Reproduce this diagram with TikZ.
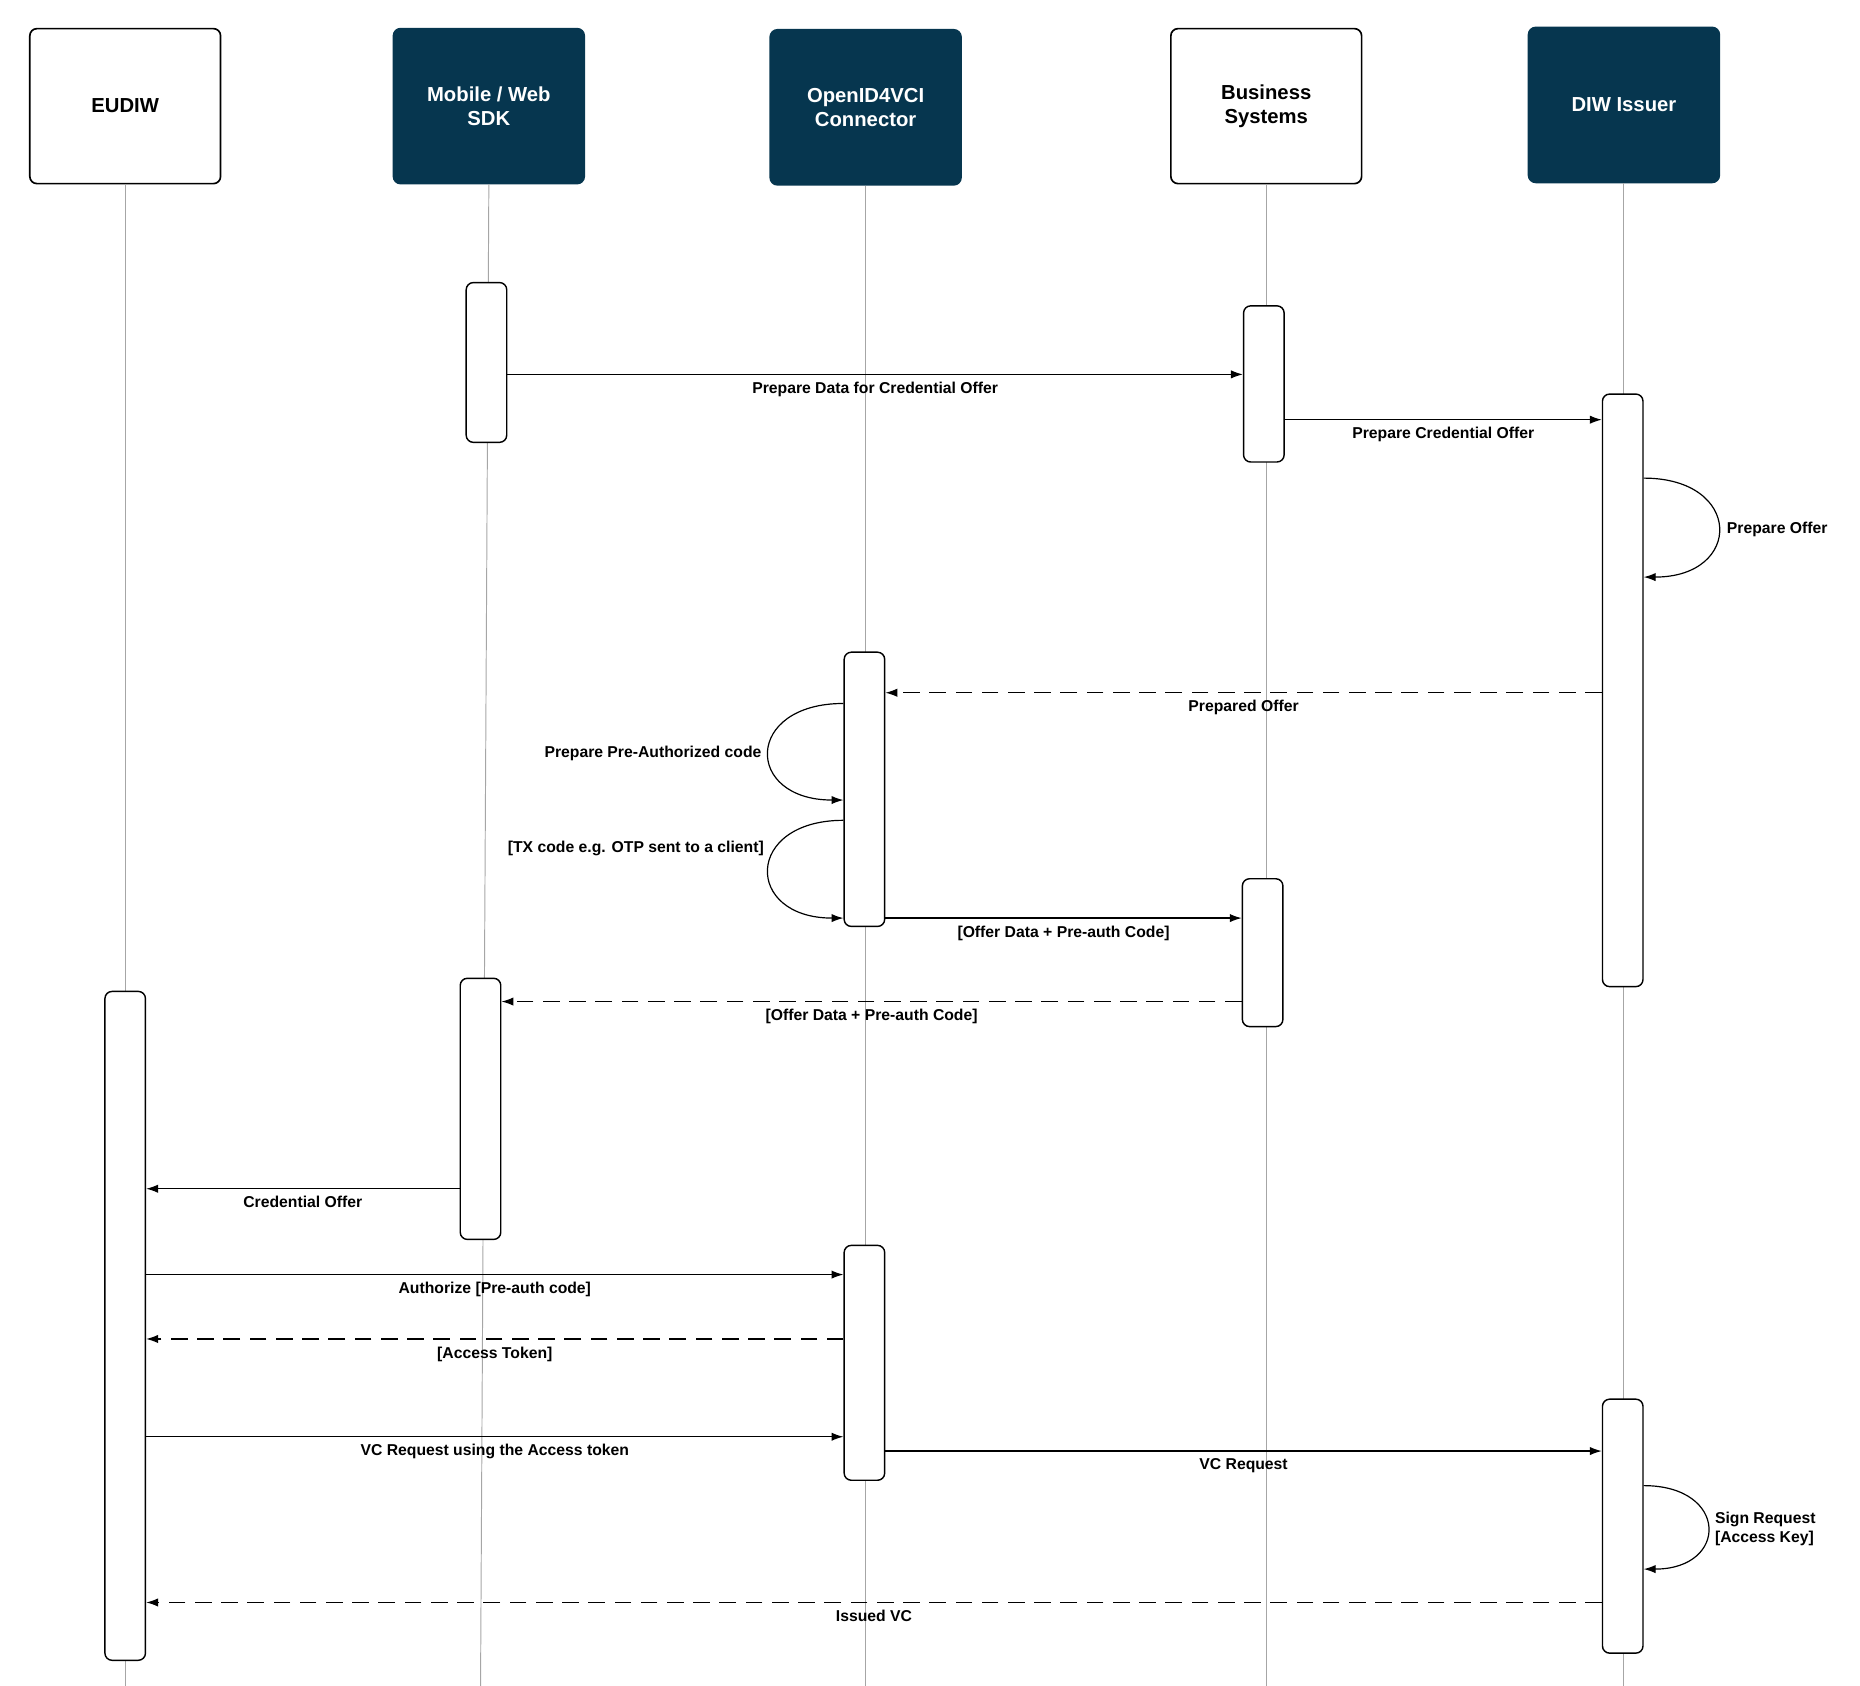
\documentclass[tikz,border=0pt]{standalone}
\usepackage{fontspec}
\setmainfont{Liberation Sans}
\usetikzlibrary{arrows.meta,positioning}
\definecolor{navy}{HTML}{06364F}
\begin{document}
\begin{tikzpicture}[x=0.5pt,y=-0.5pt,
    head/.style={draw, line width=0.7pt, rounded corners=3pt, minimum width=80pt, minimum height=65pt,
      align=center, font=\bfseries\fontsize{8.5}{10}\selectfont},
    dark/.style={head, fill=navy, draw=navy, text=white},
    act/.style={draw, line width=0.6pt, fill=white, rounded corners=3pt, minimum width=17pt, inner sep=0pt},
    life/.style={draw=gray!70, line width=0.4pt},
    msg/.style={line width=0.5pt, -{Latex[length=5pt,width=3.5pt]}},
    ret/.style={msg, dash pattern=on 7pt off 4pt},
    lbl/.style={font=\bfseries\fontsize{6.6}{8}\selectfont, inner sep=1pt}
  ]
\useasboundingbox (0,0) rectangle (1560,1414);
% participants
\node[head] (eudiw) at (105,89) {EUDIW};
\node[dark] (sdk) at (410,89) {Mobile / Web\\SDK};
\node[dark] (conn) at (726,90) {OpenID4VCI\\Connector};
\node[head] (biz) at (1062,89) {Business\\Systems};
\node[dark] (issuer) at (1362,88) {DIW Issuer};
% lifelines
\draw[life] (eudiw.south) -- (105,1420);
\draw[life] (sdk.south) -- (403,1420);
\draw[life] (conn.south) -- (726,1420);
\draw[life] (biz.south) -- (1062,1420);
\draw[life] (issuer.south) -- (1362,1420);
% activations
\node[act, minimum height=67pt] (sdkA) at (408,304) {};
\node[act, minimum height=65.5pt] (bizA) at (1060,322) {};
\node[act, minimum height=248.5pt] (issA) at (1361,579) {};
\node[act, minimum height=115pt] (connA) at (725,662) {};
\node[act, minimum height=62pt] (bizB) at (1059,799) {};
\node[act, minimum height=109.5pt] (sdkB) at (403,930) {};
\node[act, minimum height=280.5pt] (euA) at (105,1112) {};
\node[act, minimum height=98.5pt] (connB) at (725,1143) {};
\node[act, minimum height=106.5pt] (issB) at (1361,1280) {};
% messages
\draw[msg] (sdkA.east |- {(0,314)}) -- (bizA.west |- {(0,314)})
  node[lbl, pos=0.5, below=2pt] {Prepare Data for Credential Offer};
\draw[msg] (bizA.east |- {(0,352)}) -- (issA.west |- {(0,352)})
  node[lbl, pos=0.5, below=2pt] {Prepare Credential Offer};
\draw[msg] (issA.east |- {(0,401)}) .. controls (1462,401) and (1462,484) .. (issA.east |- {(0,484)});
\node[lbl, anchor=west] (l1) at (1446,444) {Prepare Offer};
\draw[ret] (issA.west |- {(0,581)}) -- (connA.east |- {(0,581)})
  node[lbl, pos=0.5, below=2pt] {Prepared Offer};
\draw[msg] (connA.west |- {(0,590)}) .. controls (624,590) and (624,671) .. (connA.west |- {(0,671)});
\node[lbl, anchor=east] (l2) at (641,632) {Prepare Pre-Authorized code};
\draw[msg] (connA.west |- {(0,688)}) .. controls (624,688) and (624,770) .. (connA.west |- {(0,770)});
\node[lbl, anchor=east] (l3) at (643,712) {[TX code e.g. OTP sent to a client]};
\draw[msg] (connA.east |- {(0,770)}) -- (bizB.west |- {(0,770)})
  node[lbl, pos=0.5, below=2pt] {[Offer Data + Pre-auth Code]};
\draw[ret] (bizB.west |- {(0,840)}) -- (sdkB.east |- {(0,840)})
  node[lbl, pos=0.5, below=2pt] {[Offer Data + Pre-auth Code]};
\draw[msg] (sdkB.west |- {(0,997)}) -- (euA.east |- {(0,997)})
  node[lbl, pos=0.5, below=2pt] {Credential Offer};
\draw[msg] (euA.east |- {(0,1069)}) -- (connB.west |- {(0,1069)})
  node[lbl, pos=0.5, below=2pt] {Authorize [Pre-auth code]};
\draw[ret] (connB.west |- {(0,1123)}) -- (euA.east |- {(0,1123)})
  node[lbl, pos=0.5, below=2pt] {[Access Token]};
\draw[msg] (euA.east |- {(0,1205)}) -- (connB.west |- {(0,1205)})
  node[lbl, pos=0.5, below=2pt] {VC Request using the Access token};
\draw[msg] (connB.east |- {(0,1217)}) -- (issB.west |- {(0,1217)})
  node[lbl, pos=0.5, below=2pt] {VC Request};
\draw[msg] (issB.east |- {(0,1246)}) .. controls (1450,1246) and (1450,1316) .. (issB.east |- {(0,1316)});
\node[lbl, anchor=west, align=left] (l4) at (1436,1282) {Sign Request\\{[Access Key]}};
\draw[ret] (issB.west |- {(0,1344)}) -- (euA.east |- {(0,1344)})
  node[lbl, pos=0.5, below=2pt] {Issued VC};
\end{tikzpicture}
\end{document}
